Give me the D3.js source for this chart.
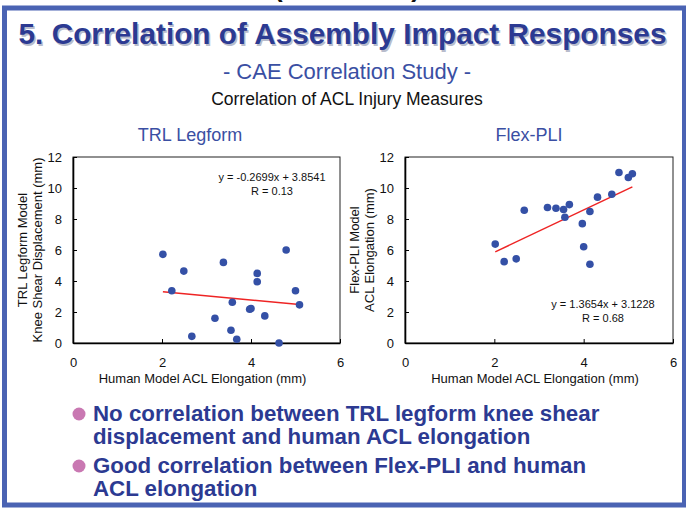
<!DOCTYPE html>
<html>
<head>
<meta charset="utf-8">
<script src="https://cdn.jsdelivr.net/npm/d3@7"></script>
<style>
  html, body { margin: 0; padding: 0; background: #fff; }
  svg { display: block; font-family: "Liberation Sans", Arial, sans-serif; }
</style>
</head>
<body>
<svg id="chart" width="686" height="509"></svg>
<script>
// ---------------- DATA ----------------
const humanACL = [2.02, 2.22, 2.49, 2.67, 3.19, 3.38, 3.55, 3.58, 3.68, 3.97, 4.00, 4.14, 4.14, 4.31, 4.63, 4.79, 5.00, 5.09];
const trlShear = [5.72, 3.37, 4.64, 0.43, 1.60, 5.20, 0.82, 2.63, 0.24, 2.18, 2.22, 4.49, 3.95, 1.75, 0.00, 6.00, 3.37, 2.46];
const flexACL  = [6.38, 5.25, 5.43, 8.56, 8.74, 8.69, 8.61, 8.11, 8.93, 7.70, 6.21, 8.48, 5.08, 9.41, 9.60, 11.00, 10.68, 10.92];
const trlFit  = { slope: -0.2699, intercept: 3.8541, r: 0.13 };
const flexFit = { slope: 1.3654, intercept: 3.1228, r: 0.68 };
const xTicks = [0, 2, 4, 6];
const yTicks = [0, 2, 4, 6, 8, 10, 12];
const chartTitles = ["TRL Legform", "Flex-PLI"];
const yLabels = [["TRL Legform Model", "Knee Shear Displacement (mm)"], ["Flex-PLI Model", "ACL Elongation (mm)"]];
const xLabel = "Human Model ACL Elongation (mm)";
const bullets = [
  ["No correlation between TRL legform knee shear", "displacement and human ACL elongation"],
  ["Good correlation between Flex-PLI and human", "ACL elongation"]
];

// ---------------- DRAW ----------------
const svg = d3.select("#chart");
const blue = "#3a4fa3";
const dark = "#2c3a92";

// cut-off heading from the slide above (only its bottom edge shows)
svg.append("text").attr("x", 347).attr("y", -3).attr("text-anchor", "middle")
  .attr("font-size", 26).attr("font-weight", "bold").attr("fill", "#111").text("(Continued)");

// frame
svg.append("rect").attr("x", 4.5).attr("y", 8).attr("width", 680).attr("height", 497)
  .attr("fill", "none").attr("stroke", "#4a63b3").attr("stroke-width", 5);

// title with subtle shadow
const title = "5. Correlation of Assembly Impact Responses";
svg.append("text").attr("x", 20).attr("y", 45.5).attr("font-size", 30).attr("font-weight", "bold")
  .attr("fill", "#b8bccc").attr("textLength", 648).attr("lengthAdjust", "spacingAndGlyphs").text(title);
svg.append("text").attr("x", 18.5).attr("y", 44).attr("font-size", 30).attr("font-weight", "bold")
  .attr("fill", dark).attr("textLength", 648).attr("lengthAdjust", "spacingAndGlyphs").text(title);

svg.append("text").attr("x", 347).attr("y", 79).attr("text-anchor", "middle")
  .attr("font-size", 22).attr("fill", blue).text("- CAE Correlation Study -");
svg.append("text").attr("x", 347).attr("y", 105).attr("text-anchor", "middle")
  .attr("font-size", 17.5).attr("fill", "#111").text("Correlation of ACL Injury Measures");

const panels = [
  { left: 73, right: 340, top: 157, bottom: 343, ys: trlShear, fit: trlFit, eqX: 272, eqY: 181 },
  { left: 405, right: 673, top: 157, bottom: 343, ys: flexACL, fit: flexFit, eqX: 603, eqY: 308 }
];

panels.forEach((p, i) => {
  const x = d3.scaleLinear().domain([0, 6]).range([p.left, p.right]);
  const y = d3.scaleLinear().domain([0, 12]).range([p.bottom, p.top]);
  const g = svg.append("g");

  g.append("rect").attr("x", p.left).attr("y", p.top).attr("width", p.right - p.left)
    .attr("height", p.bottom - p.top).attr("fill", "none").attr("stroke", "#222").attr("stroke-width", 1);

  const ax = g.append("g").attr("transform", `translate(0,${p.bottom})`)
    .call(d3.axisBottom(x).tickValues(xTicks).tickFormat(d3.format("d")).tickSizeInner(-4).tickSizeOuter(0).tickPadding(15));
  const ay = g.append("g").attr("transform", `translate(${p.left},0)`)
    .call(d3.axisLeft(y).tickValues(yTicks).tickFormat(d3.format("d")).tickSizeInner(-4).tickSizeOuter(0).tickPadding(11));
  [ax, ay].forEach(a => {
    a.select(".domain").attr("stroke", "#000").attr("stroke-width", 1.6);
    a.selectAll(".tick line").attr("stroke", "#000").attr("stroke-width", 1);
    a.selectAll(".tick text").attr("font-size", 13).attr("fill", "#111")
      .attr("font-family", "'Liberation Sans', Arial, sans-serif");
  });

  // trend line
  const xs = d3.extent(humanACL);
  g.append("line")
    .attr("x1", x(xs[0])).attr("y1", y(p.fit.slope * xs[0] + p.fit.intercept))
    .attr("x2", x(xs[1])).attr("y2", y(p.fit.slope * xs[1] + p.fit.intercept))
    .attr("stroke", "#ee2424").attr("stroke-width", 1.5);

  // points
  g.selectAll("circle.pt").data(humanACL.map((v, k) => [v, p.ys[k]])).join("circle")
    .attr("class", "pt").attr("cx", d => x(d[0])).attr("cy", d => y(d[1])).attr("r", 3.8)
    .attr("fill", "#3450a6");

  // equation text
  const sign = p.fit.intercept >= 0 ? "+" : "-";
  g.append("text").attr("x", p.eqX).attr("y", p.eqY).attr("text-anchor", "middle").attr("font-size", 11)
    .attr("fill", "#111").text(`y = ${p.fit.slope}x ${sign} ${Math.abs(p.fit.intercept).toFixed(4)}`);
  g.append("text").attr("x", p.eqX).attr("y", p.eqY + 14).attr("text-anchor", "middle").attr("font-size", 11)
    .attr("fill", "#111").text(`R = ${p.fit.r.toFixed(2)}`);

  // axis titles
  g.append("text").attr("x", (p.left + p.right) / 2 - 4).attr("y", 383).attr("text-anchor", "middle")
    .attr("font-size", 13).attr("fill", "#111").text(xLabel);
  const cy = (p.top + p.bottom) / 2;
  yLabels[i].forEach((t, j) => {
    g.append("text").attr("transform", `translate(${p.left - 46 + j * 15},${cy}) rotate(-90)`)
      .attr("text-anchor", "middle").attr("font-size", 13).attr("fill", "#111").text(t);
  });

  // chart title
  g.append("text").attr("x", i === 0 ? 190 : 529).attr("y", 141).attr("text-anchor", "middle")
    .attr("font-size", 18).attr("fill", blue).text(chartTitles[i]);
});

// bullets
const bulletY = [421, 473];
bullets.forEach((lines, i) => {
  svg.append("circle").attr("cx", 79).attr("cy", bulletY[i] - 7).attr("r", 6.5).attr("fill", "#c978b2");
  lines.forEach((t, j) => {
    svg.append("text").attr("x", 93).attr("y", bulletY[i] + j * 23).attr("font-size", 22.3)
      .attr("font-weight", "bold").attr("fill", dark).text(t);
  });
});
</script>
</body>
</html>
